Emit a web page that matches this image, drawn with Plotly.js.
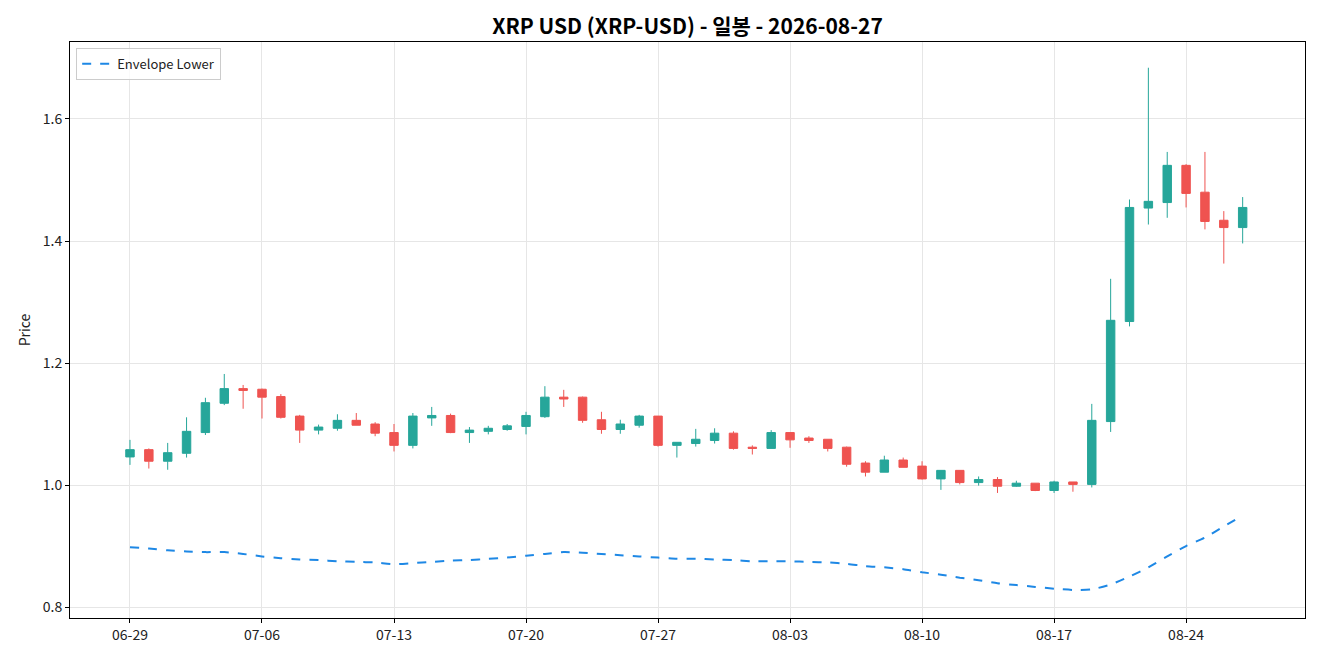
<!DOCTYPE html>
<html>
<head>
<meta charset="utf-8">
<script src="https://cdn.plot.ly/plotly-3.0.1.min.js"></script>
<style>
  html, body { margin: 0; padding: 0; background: #fff; }
  #chart { width: 1320px; height: 660px; }
</style>
</head>
<body>
<div id="chart"></div>
<script>
// daily candles, 2026-06-29 .. 2026-08-27
const dates = [
  '2026-06-29','2026-06-30','2026-07-01','2026-07-02','2026-07-03','2026-07-04','2026-07-05',
  '2026-07-06','2026-07-07','2026-07-08','2026-07-09','2026-07-10','2026-07-11','2026-07-12',
  '2026-07-13','2026-07-14','2026-07-15','2026-07-16','2026-07-17','2026-07-18','2026-07-19',
  '2026-07-20','2026-07-21','2026-07-22','2026-07-23','2026-07-24','2026-07-25','2026-07-26',
  '2026-07-27','2026-07-28','2026-07-29','2026-07-30','2026-07-31','2026-08-01','2026-08-02',
  '2026-08-03','2026-08-04','2026-08-05','2026-08-06','2026-08-07','2026-08-08','2026-08-09',
  '2026-08-10','2026-08-11','2026-08-12','2026-08-13','2026-08-14','2026-08-15','2026-08-16',
  '2026-08-17','2026-08-18','2026-08-19','2026-08-20','2026-08-21','2026-08-22','2026-08-23',
  '2026-08-24','2026-08-25','2026-08-26','2026-08-27'
];

const openP = [
  1.046, 1.058, 1.039, 1.052, 1.086, 1.134, 1.158,
  1.157, 1.145, 1.113, 1.090, 1.093, 1.106, 1.100,
  1.086, 1.065, 1.110, 1.114, 1.086, 1.088, 1.091,
  1.096, 1.112, 1.144, 1.144, 1.107, 1.091, 1.098,
  1.113, 1.065, 1.068, 1.073, 1.085, 1.062, 1.060,
  1.086, 1.077, 1.075, 1.062, 1.036, 1.021, 1.041,
  1.031, 1.010, 1.024, 1.004, 1.009, 0.998, 1.003,
  0.991, 1.005, 1.001, 1.104, 1.268, 1.454, 1.463,
  1.524, 1.480, 1.434, 1.422
];
const highP = [
  1.074, 1.060, 1.069, 1.111, 1.143, 1.182, 1.164,
  1.158, 1.149, 1.115, 1.099, 1.116, 1.118, 1.103,
  1.100, 1.118, 1.128, 1.117, 1.095, 1.097, 1.100,
  1.120, 1.162, 1.156, 1.145, 1.120, 1.107, 1.115,
  1.113, 1.070, 1.092, 1.093, 1.088, 1.065, 1.090,
  1.086, 1.080, 1.075, 1.063, 1.039, 1.048, 1.045,
  1.039, 1.024, 1.024, 1.014, 1.013, 1.007, 1.003,
  1.007, 1.005, 1.133, 1.338, 1.468, 1.684, 1.546,
  1.526, 1.546, 1.449, 1.472
];
const lowP = [
  1.033, 1.027, 1.025, 1.045, 1.082, 1.131, 1.125,
  1.109, 1.109, 1.069, 1.083, 1.089, 1.098, 1.080,
  1.055, 1.060, 1.097, 1.085, 1.069, 1.083, 1.089,
  1.083, 1.110, 1.128, 1.102, 1.084, 1.084, 1.094,
  1.063, 1.045, 1.063, 1.068, 1.058, 1.050, 1.060,
  1.061, 1.069, 1.055, 1.030, 1.014, 1.021, 1.029,
  1.009, 0.992, 1.001, 0.999, 0.987, 0.997, 0.990,
  0.987, 0.989, 0.996, 1.087, 1.260, 1.427, 1.438,
  1.455, 1.419, 1.363, 1.396
];
const closeP = [
  1.058, 1.039, 1.053, 1.088, 1.135, 1.158, 1.155,
  1.144, 1.111, 1.090, 1.095, 1.106, 1.098, 1.085,
  1.065, 1.113, 1.114, 1.086, 1.090, 1.093, 1.097,
  1.114, 1.144, 1.141, 1.106, 1.091, 1.100, 1.113,
  1.065, 1.070, 1.075, 1.085, 1.060, 1.060, 1.086,
  1.074, 1.073, 1.060, 1.034, 1.021, 1.041, 1.029,
  1.010, 1.024, 1.004, 1.009, 0.998, 1.003, 0.991,
  1.005, 1.001, 1.106, 1.270, 1.455, 1.465, 1.524,
  1.478, 1.432, 1.422, 1.455
];

const envelopeLower = [
  0.898, 0.896, 0.893, 0.891, 0.890, 0.890, 0.887,
  0.883, 0.880, 0.878, 0.877, 0.875, 0.874, 0.873,
  0.870, 0.872, 0.874, 0.876, 0.877, 0.879, 0.881,
  0.884, 0.887, 0.890, 0.889, 0.887, 0.885, 0.883,
  0.881, 0.879, 0.879, 0.878, 0.877, 0.875, 0.875,
  0.875, 0.874, 0.873, 0.871, 0.867, 0.865, 0.862,
  0.857, 0.853, 0.848, 0.844, 0.839, 0.836, 0.833,
  0.830, 0.828, 0.829, 0.837, 0.850, 0.865, 0.883,
  0.900, 0.914, 0.932, 0.950
];

const UP = '#26a69a';
const DOWN = '#ef5350';
const FONT = '"Noto Sans CJK KR", "Noto Sans", sans-serif';

let candles = {
  type: 'candlestick',
  x: dates,
  open: openP,
  high: highP,
  low: lowP,
  close: closeP,
  increasing: { line: { color: UP, width: 1 }, fillcolor: UP },
  decreasing: { line: { color: DOWN, width: 1 }, fillcolor: DOWN },
  whiskerwidth: 0,
  showlegend: false,
  hoverinfo: 'skip'
};

let envelope = {
  type: 'scatter',
  mode: 'lines',
  x: dates,
  y: envelopeLower,
  name: 'Envelope Lower',
  line: { color: '#1e88e5', width: 2, dash: 'dash', shape: 'spline', smoothing: 0.6 }
};

let layout = {
  width: 1320,
  height: 660,
  paper_bgcolor: '#fff',
  plot_bgcolor: '#fff',
  font: { family: FONT, size: 14, color: '#222' },
  margin: { l: 70, r: 15, t: 42, b: 42 },
  boxgap: 0.36,
  title: {
    text: '<b>XRP USD (XRP-USD) - 일봉 - 2026-08-27</b>',
    font: { family: FONT, size: 21, color: '#000' },
    x: 0.5,
    xref: 'paper',
    y: 0.960,
    yanchor: 'middle'
  },
  xaxis: {
    type: 'date',
    range: ['2026-06-25 19:40', '2026-08-30 07:20'],
    tick0: '2026-06-29',
    dtick: 7 * 24 * 3600 * 1000,
    tickformat: '%m-%d',
    tickfont: { family: FONT, size: 14, color: '#222' },
    showgrid: true,
    gridcolor: '#e6e6e6',
    gridwidth: 1,
    showline: true,
    linecolor: '#000',
    linewidth: 1,
    mirror: true,
    ticks: 'outside',
    ticklen: 4,
    tickcolor: '#000',
    rangeslider: { visible: false },
    zeroline: false
  },
  yaxis: {
    range: [0.782, 1.7262],
    dtick: 0.2,
    tick0: 0,
    tickformat: '.1f',
    tickfont: { family: FONT, size: 14, color: '#222' },
    title: { text: 'Price', font: { family: FONT, size: 14, color: '#222' }, standoff: 8 },
    showgrid: true,
    gridcolor: '#e6e6e6',
    gridwidth: 1,
    showline: true,
    linecolor: '#000',
    linewidth: 1,
    mirror: true,
    ticks: 'outside',
    ticklen: 4,
    tickcolor: '#000',
    zeroline: false
  },
  legend: {
    x: 0.005,
    y: 0.99,
    xanchor: 'left',
    yanchor: 'top',
    bgcolor: 'rgba(255,255,255,0.8)',
    bordercolor: '#cccccc',
    borderwidth: 1,
    itemwidth: 30,
    font: { family: FONT, size: 13, color: '#222' }
  },
  hovermode: false
};

Plotly.newPlot('chart', [candles, envelope], layout, { displayModeBar: false, staticPlot: true });
</script>
</body>
</html>
